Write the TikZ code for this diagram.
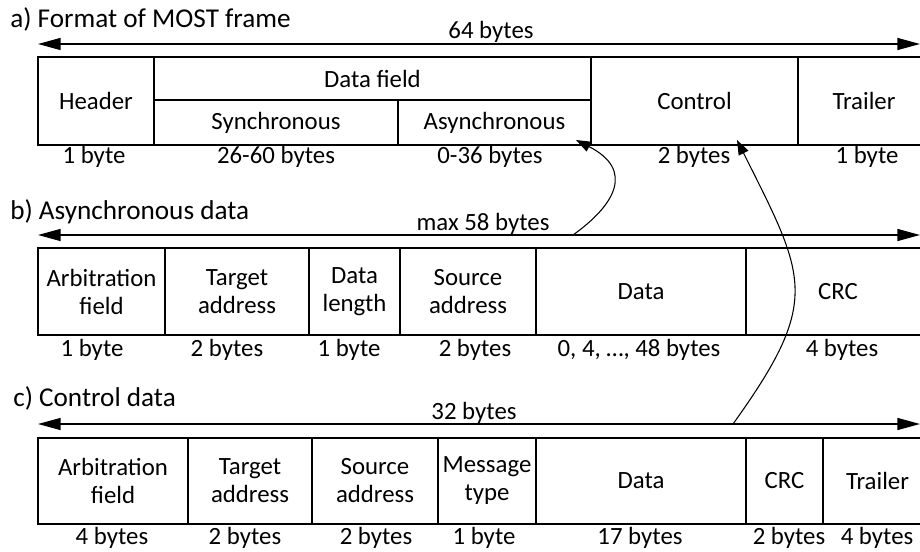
\documentclass[tikz,border=0pt]{standalone}
\usepackage{fontspec}
\setmainfont{Carlito}
\usetikzlibrary{arrows.meta}
\newcommand{\cellbox}[6]{\node[cell,minimum width={(#4-#2)*0.75pt},minimum height={(#5-#3)*0.75pt}] (#1) at ({(#2+#4)/2},{(#3+#5)/2}) {#6};}
\begin{document}
\begin{tikzpicture}[x=0.75pt,y=-0.75pt,
  font=\fontsize{18.6}{21}\selectfont,
  cell/.style={draw,line width=1.5pt,inner sep=0pt,align=center},
  lbl/.style={anchor=base,inner sep=0pt},
  ttl/.style={anchor=base west,inner sep=0pt,font=\fontsize{20.4}{24}\selectfont},
  dim/.style={line width=1.1pt,{Triangle[length=17pt,width=9pt]}-{Triangle[length=17pt,width=9pt]}},
  link/.style={line width=0.8pt,-{Triangle[length=11pt,width=8pt]}}]
\useasboundingbox (0,0) rectangle (920,552);

% ---------- a) ----------
\node[ttl] (ta) at (10,28) {a) Format of MOST frame};
\coordinate (aL) at (38,44); \coordinate (aR) at (920,44);
\draw[dim] (aL) -- (aR);
\node[lbl] (alen) at (491,39) {64 bytes};
\cellbox{aHdr}{38}{57}{154}{145}{Header}
\cellbox{aDF}{154}{57}{591}{100}{Data field}
\cellbox{aSync}{154}{100}{398}{145}{Synchronous}
\cellbox{aAsync}{398}{100}{591}{145}{Asynchronous}
\cellbox{aCtl}{591}{57}{798}{145}{Control}
\cellbox{aTrl}{798}{57}{930}{145}{Trailer}
\node[lbl] at (94,164) {1 byte};
\node[lbl] at (276,164) {26-60 bytes};
\node[lbl] at (490,164) {0-36 bytes};
\node[lbl] at (694,164) {2 bytes};
\node[lbl] at (867,164) {1 byte};

% ---------- b) ----------
\node[ttl] (tb) at (10,220) {b) Asynchronous data};
\coordinate (bL) at (38,235); \coordinate (bR) at (920,235);
\draw[dim] (bL) -- (bR);
\node[lbl] (blen) at (483,230) {max 58 bytes};
\cellbox{bArb}{38}{248}{165}{335}{Arbitration\\field}
\cellbox{bTgt}{165}{248}{309}{335}{Target\\address}
\cellbox{bLen}{309}{248}{400}{335}{Data\\length}
\cellbox{bSrc}{400}{248}{536}{335}{Source\\address}
\cellbox{bData}{536}{248}{746}{335}{Data}
\cellbox{bCRC}{746}{248}{930}{335}{CRC}
\node[lbl] at (92,356) {1 byte};
\node[lbl] at (227,356) {2 bytes};
\node[lbl] at (349,356) {1 byte};
\node[lbl] at (475,356) {2 bytes};
\node[lbl] at (639,356) {0, 4, …, 48 bytes};
\node[lbl] at (842,356) {4 bytes};

% ---------- c) ----------
\node[ttl] (tc) at (13,406) {c) Control data};
\coordinate (cL) at (38,424); \coordinate (cR) at (920,424);
\draw[dim] (cL) -- (cR);
\node[lbl] (clen) at (474,419) {32 bytes};
\cellbox{cArb}{38}{438}{188}{524}{Arbitration\\field}
\cellbox{cTgt}{188}{438}{312}{524}{Target\\address}
\cellbox{cSrc}{312}{438}{438}{524}{Source\\address}
\cellbox{cMsg}{438}{438}{536}{524}{Message\\type}
\cellbox{cData}{536}{438}{746}{524}{Data}
\cellbox{cCRC}{746}{438}{823}{524}{CRC}
\cellbox{cTrl}{823}{438}{932}{524}{Trailer}
\node[lbl] at (112,544) {4 bytes};
\node[lbl] at (245,544) {2 bytes};
\node[lbl] at (376,544) {2 bytes};
\node[lbl] at (484,544) {1 byte};
\node[lbl] at (640,544) {17 bytes};
\node[lbl] at (789,544) {2 bytes};
\node[lbl] at (877,544) {4 bytes};

% ---------- links ----------
\coordinate (s1) at (573,235); \coordinate (e1) at (576,140);
\draw[link] (s1) .. controls (615,205) and (635,170) .. (e1);
\coordinate (s2) at (733,424); \coordinate (e2) at (737,140);
\draw[link] (s2) .. controls (822,300) and (806,278) .. (e2);
\end{tikzpicture}
\end{document}
